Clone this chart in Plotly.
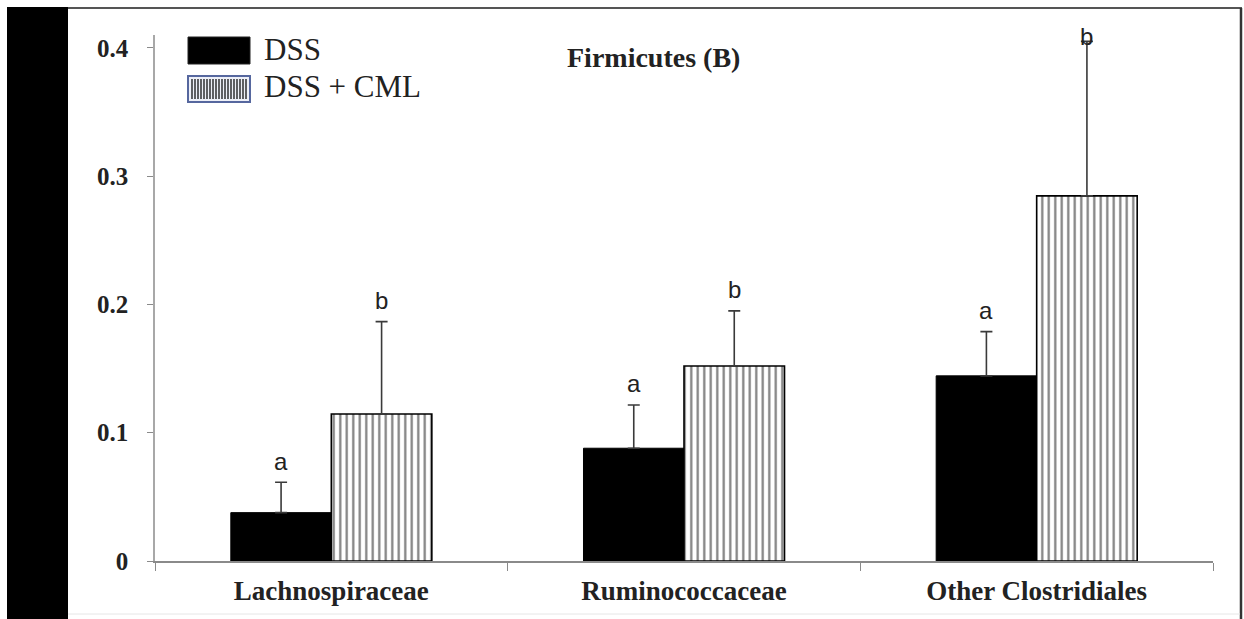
import plotly.graph_objects as go

categories = ["Lachnospiraceae", "Ruminococcaceae", "Other Clostridiales"]
dss_mean = [0.0377, 0.0879, 0.1443]
dss_err = [0.0237, 0.0337, 0.0345]
cml_mean = [0.1146, 0.1520, 0.2846]
cml_err = [0.0720, 0.0430, 0.1204]
dss_letters = ["a", "a", "a"]
cml_letters = ["b", "b", "b"]
y_ticks = [0, 0.1, 0.2, 0.3, 0.4]
y_ticktext = ["0", "0.1", "0.2", "0.3", "0.4"]
series_names = ["DSS", "DSS + CML"]
title_text = "Firmicutes (B)"

W, H = 1244, 619
L, R, T, B = 155, 31, 35, 58
PW, PH = W - L - R, H - T - B

def px(x):
    return (x - L) / PW

def py(y):
    return (H - B - y) / PH

SERIF = "Liberation Serif"
SANS = "Liberation Sans"

fig = go.Figure()
fig.add_trace(go.Bar(
    x=categories, y=dss_mean, name=series_names[0],
    marker=dict(color="black", line=dict(color="black", width=1)),
    error_y=dict(type="data", array=dss_err, arrayminus=[0] * 3, symmetric=False,
                 color="#3a3a3a", thickness=1.6, width=6),
))
fig.add_trace(go.Bar(
    x=categories, y=cml_mean, name=series_names[1],
    marker=dict(color="white", line=dict(color="black", width=1.6),
                pattern=dict(shape="|", size=6.5, solidity=0.34, fgcolor="black", bgcolor="white")),
    error_y=dict(type="data", array=cml_err, arrayminus=[0] * 3, symmetric=False,
                 color="#3a3a3a", thickness=1.6, width=6),
))

BW = 0.285
annotations = []
for i in range(3):
    for off, mean, err, lab in [(-BW / 2, dss_mean[i], dss_err[i], dss_letters[i]),
                                (BW / 2, cml_mean[i], cml_err[i], cml_letters[i])]:
        annotations.append(dict(
            x=i + off, y=min(mean + err + 0.0165, 0.4085), xref="x", yref="y",
            text=lab, showarrow=False, font=dict(family=SANS, size=24, color="#222"),
            xanchor="center", yanchor="middle"))

annotations.append(dict(x=px(653), y=py(58), xref="paper", yref="paper", text="<b>" + title_text + "</b>",
                        showarrow=False, font=dict(family=SERIF, size=28, color="#222"),
                        xanchor="center", yanchor="middle"))
annotations.append(dict(x=px(262), y=py(50), xref="paper", yref="paper", text=series_names[0],
                        showarrow=False, font=dict(family=SERIF, size=31, color="#222"),
                        xanchor="left", yanchor="middle"))
annotations.append(dict(x=px(262), y=py(86), xref="paper", yref="paper", text=series_names[1],
                        showarrow=False, font=dict(family=SERIF, size=31, color="#222"),
                        xanchor="left", yanchor="middle"))

shapes = []
# black strip at left
shapes.append(dict(type="rect", xref="paper", yref="paper", x0=px(7), x1=px(68), y0=py(H + 2), y1=py(7),
                   fillcolor="black", line=dict(width=0), layer="below"))
# frame lines
shapes.append(dict(type="line", xref="paper", yref="paper", x0=px(68), x1=px(1242), y0=py(8), y1=py(8),
                   line=dict(color="#555", width=2)))
shapes.append(dict(type="line", xref="paper", yref="paper", x0=px(1241), x1=px(1241), y0=py(8), y1=py(H + 2),
                   line=dict(color="#333", width=2.5)))
shapes.append(dict(type="line", xref="paper", yref="paper", x0=px(68), x1=px(1240), y0=py(614), y1=py(614),
                   line=dict(color="#e6e6e6", width=1)))
# legend swatches
shapes.append(dict(type="rect", xref="paper", yref="paper", x0=px(188), x1=px(250), y0=py(64), y1=py(37),
                   fillcolor="black", line=dict(color="#222", width=1)))
shapes.append(dict(type="rect", xref="paper", yref="paper", x0=px(188), x1=px(250), y0=py(102), y1=py(76),
                   fillcolor="#eef0f8", line=dict(color="#56679e", width=2)))
xx = 192
while xx <= 246:
    shapes.append(dict(type="line", xref="paper", yref="paper", x0=px(xx), x1=px(xx), y0=py(99), y1=py(79),
                       line=dict(color="#111", width=1.3)))
    xx += 3

fig.update_layout(
    width=W, height=H,
    margin=dict(l=L, r=R, t=T, b=B, pad=0),
    paper_bgcolor="white", plot_bgcolor="white",
    barmode="group", bargap=0.43, bargroupgap=0,
    showlegend=False,
    annotations=annotations, shapes=shapes,
    xaxis=dict(type="category", showline=True, linecolor="#8a8a8a", linewidth=1.6,
               ticks="outside", tickson="boundaries", ticklen=8, tickcolor="#8a8a8a",
               showgrid=False, zeroline=False, ticklabelstandoff=5,
               tickfont=dict(family=SERIF, size=27, color="#222"),
               tickprefix="<b>", ticksuffix="</b>"),
    yaxis=dict(range=[0, 0.41], showline=True, linecolor="#a8a8a8", linewidth=1.6,
               ticks="outside", ticklen=6, tickcolor="#8a8a8a",
               tickvals=y_ticks, ticktext=["<b>" + t + "</b>" for t in y_ticktext],
               showgrid=False, zeroline=False, ticklabelstandoff=14,
               tickfont=dict(family=SERIF, size=25, color="#222")),
)

fig.write_html("out.html")
